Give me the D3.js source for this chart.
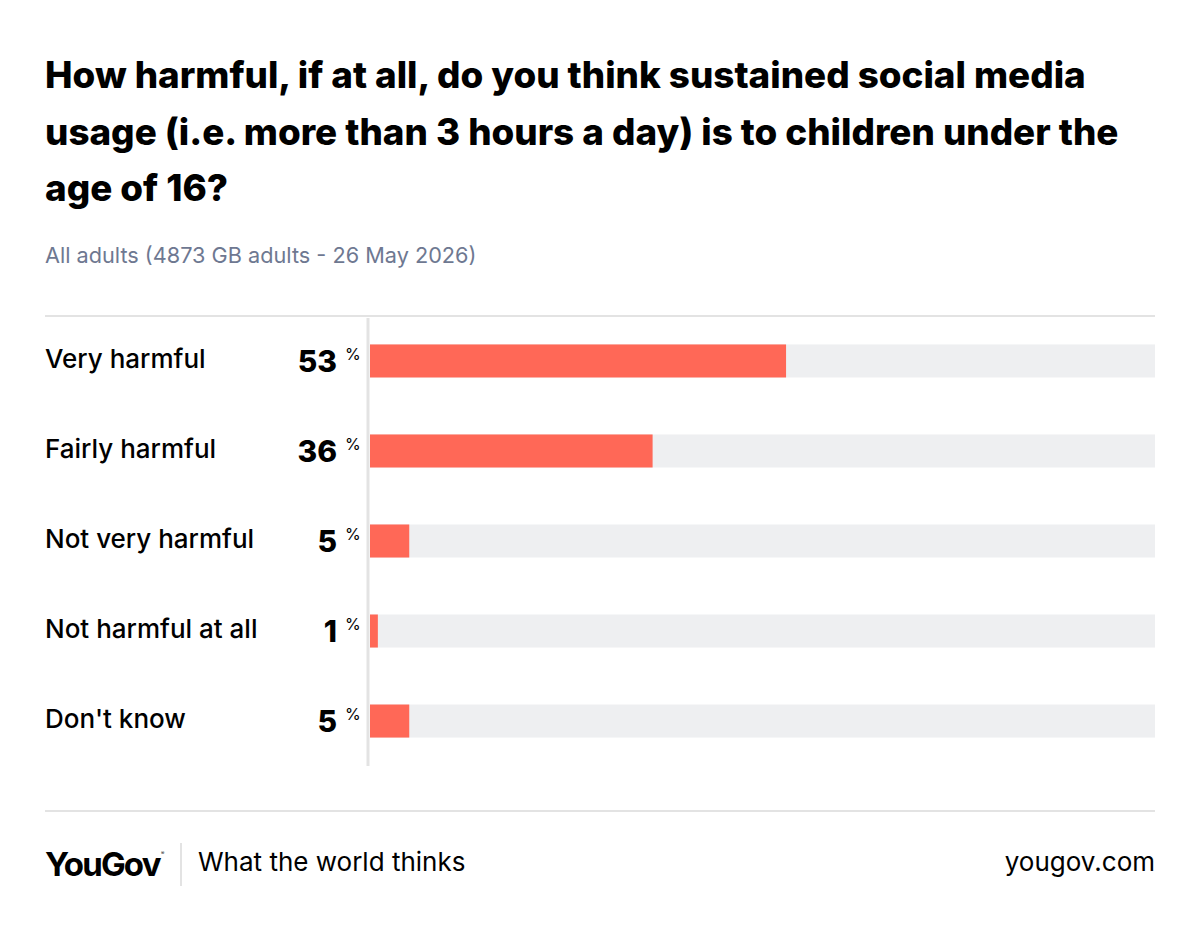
<!DOCTYPE html>
<html>
<head>
<meta charset="utf-8">
<script src="https://cdn.jsdelivr.net/npm/d3@7"></script>
<style>
  body { margin: 0; background: #fff; }
  svg { display: block; }
  text { font-family: Inter, "Noto Sans", sans-serif; }
</style>
</head>
<body>
<svg id="chart" width="1200" height="931"></svg>
<script>
var titleLines = [
    "How harmful, if at all, do you think sustained social media",
    "usage (i.e. more than 3 hours a day) is to children under the",
    "age of 16?"
];
var subtitle = "All adults (4873 GB adults - 26 May 2026)";
var categories = ["Very harmful", "Fairly harmful", "Not very harmful", "Not harmful at all", "Don't know"];
var values = [53, 36, 5, 1, 5];

var svg = d3.select("#chart");
var left = 45, right = 1155;

/* title + subtitle */
svg.append("g").selectAll("text")
    .data(titleLines)
    .enter()
    .append("text")
    .attr("x", left)
    .attr("y", function(d, i) { return 88 + i * 56.5; })
    .attr("font-size", 36.8)
    .attr("font-weight", 800)
    .attr("fill", "#000")
    .text(function(d) { return d; });

svg.append("text")
    .attr("x", left)
    .attr("y", 263)
    .attr("font-size", 21.7)
    .attr("fill", "#6e7891")
    .text(subtitle);

/* rules */
svg.append("line").attr("x1", left).attr("x2", right).attr("y1", 316).attr("y2", 316)
    .attr("stroke", "#e3e3e3").attr("stroke-width", 2);
svg.append("line").attr("x1", left).attr("x2", right).attr("y1", 811).attr("y2", 811)
    .attr("stroke", "#e3e3e3").attr("stroke-width", 2);

/* scales */
var x = d3.scaleLinear().domain([0, 100]).range([370, right]);
var y = d3.scaleBand().domain(categories).range([316, 766]).paddingInner(0.633).paddingOuter(0.316);

var rows = svg.append("g").selectAll("g")
    .data(categories)
    .enter()
    .append("g");

// track
rows.append("rect")
    .attr("x", x(0))
    .attr("y", function(d) { return y(d); })
    .attr("width", x(100) - x(0))
    .attr("height", y.bandwidth())
    .attr("fill", "#eeeff1");

// bar
rows.append("rect")
    .attr("x", x(0))
    .attr("y", function(d) { return y(d); })
    .attr("width", function(d, i) { return x(values[i]) - x(0); })
    .attr("height", y.bandwidth())
    .attr("fill", "#ff6857");

// category label
rows.append("text")
    .attr("x", left)
    .attr("y", function(d) { return y(d) + y.bandwidth() / 2 + 7; })
    .attr("font-size", 26)
    .attr("font-weight", 500)
    .attr("fill", "#000")
    .text(function(d) { return d; });

// value
rows.append("text")
    .attr("x", 337)
    .attr("y", function(d) { return y(d) + y.bandwidth() / 2 + 11; })
    .attr("text-anchor", "end")
    .attr("font-size", 30)
    .attr("font-weight", 800)
    .attr("fill", "#000")
    .text(function(d, i) { return values[i]; });

rows.append("text")
    .attr("x", 345)
    .attr("y", function(d) { return y(d) + y.bandwidth() / 2 - 1; })
    .attr("font-size", 16)
    .attr("fill", "#000")
    .text("%");

/* zero axis */
svg.append("line").attr("x1", 368).attr("x2", 368).attr("y1", 318).attr("y2", 766)
    .attr("stroke", "#e3e3e3").attr("stroke-width", 3);

/* footer */
svg.append("text")
    .attr("x", left)
    .attr("y", 876)
    .attr("font-size", 33)
    .attr("font-weight", 700)
    .attr("letter-spacing", -1.8)
    .attr("fill", "#000")
    .text("YouGov");
svg.append("text")
    .attr("x", 161)
    .attr("y", 855)
    .attr("font-size", 5)
    .attr("fill", "#000")
    .text("®");
svg.append("line").attr("x1", 181).attr("x2", 181).attr("y1", 843).attr("y2", 886)
    .attr("stroke", "#e3e3e3").attr("stroke-width", 2);
svg.append("text")
    .attr("x", 198)
    .attr("y", 871)
    .attr("font-size", 26)
    .attr("fill", "#000")
    .text("What the world thinks");
svg.append("text")
    .attr("x", right)
    .attr("y", 871)
    .attr("text-anchor", "end")
    .attr("font-size", 26)
    .attr("fill", "#000")
    .text("yougov.com");
</script>
</body>
</html>
